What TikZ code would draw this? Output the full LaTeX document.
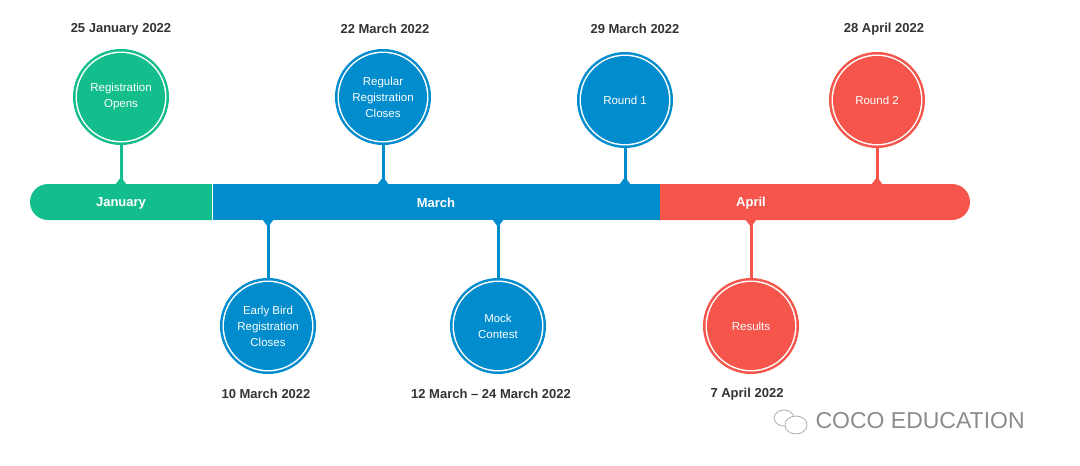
\documentclass[tikz,border=0pt]{standalone}
\usepackage{fontspec}
\setmainfont{Liberation Sans}
\definecolor{cg}{RGB}{20,190,140}
\definecolor{cb}{RGB}{0,140,205}
\definecolor{cr}{RGB}{245,85,75}
\begin{document}
\begin{tikzpicture}[x=1pt,y=-1pt,
  ev/.style={circle,minimum size=88pt,inner sep=0pt,align=center,text=white,font=\fontsize{11.5}{16}\selectfont},
  date/.style={font=\bfseries\fontsize{13}{15}\selectfont,text=black!80},
  mon/.style={font=\bfseries\fontsize{13}{15}\selectfont,text=white}]
\useasboundingbox (0,0) rectangle (1080,466);
% bar
\fill[cg,rounded corners=18pt] (30,184) rectangle (230,220);
\fill[cr,rounded corners=18pt] (640,184) rectangle (970,220);
\fill[cg] (200,184) rectangle (212,220);
\fill[cb] (212,184) rectangle (660,220);
\draw[white,line width=1pt] (212,184) -- (212,220);
\node[mon] (mj) at (121,203) {January};
\node[mon] (mm) at (436,203) {March};
\node[mon] (ma) at (751,203) {April};
% events
\foreach \n/\x/\y/\c/\t in {e1/121/97/cg/{Registration\\Opens},e2/383/97/cb/{Regular\\Registration\\Closes},e3/625/100/cb/{Round 1},e4/877/100/cr/{Round 2},e5/268/326/cb/{Early Bird\\Registration\\Closes},e6/498/326/cb/{Mock\\Contest},e7/751/326/cr/{Results}}{
  \fill[\c] (\x,\y) circle (48);
  \fill[white] (\x,\y) circle (45.5);
  \fill[\c] (\x,\y) circle (44);
  \node[ev] (\n) at (\x,\y) {\t};
}
\foreach \n/\x/\c/\s in {e1/121/cg/1,e2/383/cb/1,e3/625/cb/1,e4/877/cr/1}{
  \coordinate (b\n) at (\x,184);
  \draw[\c,line width=3pt] (\n.south) ++(0,3) -- (b\n);
  \fill[\c] (\x-6,185) -- (\x+6,185) -- (\x,177) -- cycle;
}
\foreach \n/\x/\c in {e5/268/cb,e6/498/cb,e7/751/cr}{
  \coordinate (b\n) at (\x,220);
  \draw[\c,line width=3pt] (\n.north) ++(0,-3) -- (b\n);
  \fill[\c] (\x-6,219) -- (\x+6,219) -- (\x,227) -- cycle;
}
\node[date] (d1) at (121,29) {25 January 2022};
\node[date] (d2) at (385,29) {22 March 2022};
\node[date] (d3) at (635,29) {29 March 2022};
\node[date] (d4) at (884,29) {28 April 2022};
\node[date] (d5) at (266,394) {10 March 2022};
\node[date] (d6) at (491,394) {12 March – 24 March 2022};
\node[date] (d7) at (747,394) {7 April 2022};
% watermark
\node[text=black!45,font=\fontsize{23}{24}\selectfont,anchor=west] (wm) at (812,421) {COCO EDUCATION};
\draw[black!40,line width=0.6pt] (784,418) ellipse (10 and 8);
\draw[black!40,line width=0.6pt,fill=white] (796,425) ellipse (11 and 9);
\end{tikzpicture}
\end{document}
